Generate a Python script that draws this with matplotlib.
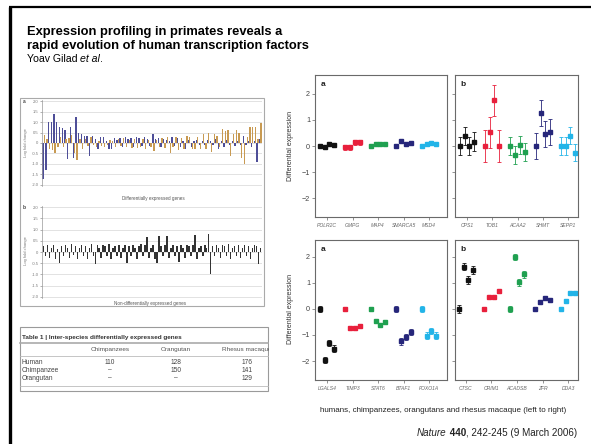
import matplotlib
matplotlib.use('Agg')
import matplotlib.pyplot as plt
from matplotlib.patches import Rectangle

W, H = 591, 444
plt.rcParams['font.family'] = ['Liberation Sans', 'DejaVu Sans']

# ---------------- data ----------------
# Left figure, panel a: differentially expressed genes (paired bars)
de_blue = [-1.7, -1.3, 1.0, 1.0, 1.4, 1.0, 0.75, 0.7, 0.6, -0.75,
           0.75, -0.7, 1.25, 0.5, 0.45, 0.35, 0.35, -0.6, 0.35, 0.2,
           -0.3, 0.3, 0.3, 0.1, -0.3, -0.3, 0.25, 0.15, 0.25, -0.2,
           0.3, 0.2, 0.25, -0.2, 0.3, 0.25, -0.15, 0.3, 0.2, -0.15,
           0.45, 0.2, 0.25, -0.2, 0.2, 0.15, 0.1, 0.3, -0.15, 0.25,
           -0.2, 0.1, -0.3, 0.15, -0.2, 0.1, 0.15, -0.1, 0.1, -0.1,
           0.15, 0.1, -0.1, 0.2, -0.3, 0.1, -0.2, 0.15, -0.1, 0.1,
           -0.15, 0.1, -0.1, 0.35, -0.1, 0.1, -0.2, 0.1, -0.9, 0.2]
de_tan = [0.4, 0.2, -0.3, -0.35, -0.5, -0.2, 0.3, -0.2, 0.2, 0.25,
          0.4, -0.5, -0.8, 0.2, -0.3, 0.2, -0.15, 0.3, -0.1, -0.2,
          0.1, -0.15, -0.2, -0.1, 0.15, 0.1, -0.2, 0.2, -0.15, 0.25,
          -0.2, 0.15, -0.25, 0.2, -0.25, -0.2, 0.2, -0.3, 0.15, -0.2,
          -0.4, 0.15, -0.2, 0.25, -0.25, 0.3, -0.5, -0.2, 0.3, -0.35,
          0.25, -0.3, 0.35, 0.3, -0.3, -0.3, 0.3, -0.3, 0.45, -0.3,
          0.5, -0.45, 0.45, 0.35, -0.2, 0.65, 0.55, 0.6, -0.6, 0.45,
          0.6, 0.5, -0.7, -1.0, 0.3, 0.75, 0.75, 0.75, 0.2, 0.95]
# Left figure, panel b: non-differentially expressed genes
nde = [0.25, -0.2, 0.3, -0.25, 0.2, 0.3, -0.3, 0.15, -0.5, 0.25,
       -0.2, 0.3, 0.2, -0.25, 0.35, -0.15, 0.25, -0.3, 0.2, 0.3,
       -0.2, 0.25, -0.3, 0.2, 0.35, -0.2, -0.55, 0.3, 0.2, -0.25,
       0.3, 0.25, -0.2, 0.35, -0.3, 0.2, 0.25, -0.2, 0.3, -0.25,
       0.2, 0.3, -0.5, 0.25, -0.2, 0.3, 0.2, -0.3, 0.25, 0.35,
       -0.2, 0.3, 0.65, -0.25, 0.2, 0.3, -0.3, -0.5, 0.7, 0.25,
       -0.2, 0.3, 0.7, -0.25, 0.2, 0.3, -0.2, 0.25, -0.45, 0.3,
       0.2, -0.25, 0.3, 0.25, -0.2, 0.3, 0.75, -0.3, 0.2, 0.25,
       -0.2, 0.3, 0.2, 0.8, -1.0, 0.25, -0.2, 0.3, 0.2, -0.25,
       0.3, 0.25, -0.2, 0.35, -0.3, 0.2, 0.25, -0.2, 0.3, -0.25,
       0.2, 0.3, -0.2, 0.25, -0.3, 0.2, 0.3, 0.25, -0.55, 0.2]
lfc_ticks = [2.0, 1.5, 1.0, 0.5, 0, -0.5, -1.0, -1.5, -2.0]
lfc_labels = ['2.0', '1.5', '1.0', '0.5', '0', '-0.5', '-1.0', '-1.5', '-2.0']

# Table 1
tbl_title = 'Table 1 | Inter-species differentially expressed genes'
tbl_cols = ['Chimpanzees', 'Orangutan', 'Rhesus macaque']
tbl_rows = ['Human', 'Chimpanzee', 'Orangutan']
tbl_vals = [['110', '128', '176'], ['\u2013', '150', '141'], ['\u2013', '\u2013', '129']]

# Right figure: differential expression (humans, chimps, orangutans, rhesus)
genes_ua = ['POLR2C', 'GMPG', 'MAP4', 'SMARCA5', 'MSD4']
vals_ua = [[0, -0.05, 0.08, 0.03], [-0.05, -0.05, 0.14, 0.14], [0, 0.07, 0.07, 0.07],
           [0, 0.2, 0.07, 0.13], [0, 0.07, 0.1, 0.08]]
err_ua = [0.04, 0.1, 0.04, 0.04, 0.04]
genes_ub = ['CPS1', 'TOB1', 'ACAA2', 'SHMT', 'SEPP1']
vals_ub = [[0, 0.37, 0, 0.17], [0, 0.52, 1.75, 0], [0, -0.35, 0.05, -0.22],
           [0, 1.25, 0.45, 0.55], [0, 0, 0.4, -0.25]]
err_ub = [0.35, 0.6, 0.35, 0.5, 0.33]
genes_la = ['LGALS4', 'TIMP3', 'STAT6', 'BTAF1', 'FOXO1A']
vals_la = [[0, -1.95, -1.3, -1.52], [0, -0.75, -0.75, -0.65], [0, -0.48, -0.6, -0.52],
           [0, -1.25, -1.08, -0.88], [0, -1.02, -0.85, -1.02]]
err_la = [0.12, 0.07, 0.06, 0.12, 0.12]
genes_lb = ['CTSC', 'CRIM1', 'ACADSB', 'ZFR', 'DDA3']
vals_lb = [[0, 1.63, 1.12, 1.5], [0, 0.45, 0.45, 0.68], [0, 2.0, 1.03, 1.33],
           [0, 0.28, 0.43, 0.33], [0, 0.3, 0.63, 0.63]]
err_lb = [0.15, 0.06, 0.13, 0.04, 0.05]
gene_colors = ['#111111', '#e8203c', '#1fa050', '#26267a', '#22b4e8']
species_offsets = [-0.28, -0.09, 0.09, 0.28]
de_ticks = [-2, -1, 0, 1, 2]

# ---------------- figure ----------------
fig = plt.figure(figsize=(W / 100, H / 100), dpi=100)
bg = fig.add_axes([0, 0, 1, 1])
bg.set_xlim(0, W)
bg.set_ylim(H, 0)
bg.axis('off')


def rect(x0, y0, x1, y1):
    return [x0 / W, 1 - y1 / H, (x1 - x0) / W, (y1 - y0) / H]


renderer = fig.canvas.get_renderer()


def seq_text(x, y, parts, align='left', **kw):
    texts = []
    for s, extra in parts:
        t = bg.text(0, y, s, va='center', **kw, **extra)
        texts.append(t)
    widths = [t.get_window_extent(renderer=renderer).width for t in texts]
    total = sum(widths)
    cx = x - total if align == 'right' else x
    for t, w in zip(texts, widths):
        t.set_x(cx)
        cx += w


# frame
bg.plot([10, 10], [7, H], color='black', lw=2.4, solid_capstyle='butt')
bg.plot([9, W], [7.5, 7.5], color='black', lw=1.6, solid_capstyle='butt')

# title block
bg.text(27, 32, 'Expression profiling in primates reveals a', fontsize=9.3,
        weight='bold', va='center')
bg.text(27, 46, 'rapid evolution of human transcription factors', fontsize=9.3,
        weight='bold', va='center')
seq_text(27, 59, [('Yoav Gilad ', {}), ('et al', {'style': 'italic'}), ('.', {})],
         fontsize=7.6)

# ---- left figure (bar charts) ----
bg.add_patch(Rectangle((20, 98), 244, 208, fill=False, ec='#aaaaaa', lw=0.8))

gray_txt = '#777777'


def style_lfc(ax):
    ax.set_ylim(-2.05, 2.05)
    ax.set_yticks(lfc_ticks)
    ax.set_yticklabels(lfc_labels)
    ax.tick_params(axis='y', labelsize=3, colors=gray_txt, length=1.5, width=0.4, pad=1)
    ax.tick_params(axis='x', bottom=False, labelbottom=False)
    for s in ['top', 'right', 'bottom']:
        ax.spines[s].set_visible(False)
    ax.spines['left'].set_color('#999999')
    ax.spines['left'].set_linewidth(0.5)
    for t in lfc_ticks:
        ax.axhline(t, color='#d6d6d6', lw=0.5, zorder=0)


ax1 = fig.add_axes(rect(42, 100, 262, 186))
n1 = len(de_blue)
xs1 = list(range(n1))
ax1.bar([x - 0.2 for x in xs1], de_blue, width=0.5, color='#4e4e98', lw=0)
ax1.bar([x + 0.2 for x in xs1], de_tan, width=0.5, color='#c89a52', lw=0)
ax1.set_xlim(-0.6, n1 - 0.4)
style_lfc(ax1)

ax2 = fig.add_axes(rect(42, 206, 262, 298))
n2 = len(nde)
ax2.bar(range(n2), nde, width=0.6, color='#333333', lw=0)
ax2.set_xlim(-0.6, n2 - 0.4)
style_lfc(ax2)

bg.text(22.5, 101, 'a', fontsize=3.5, weight='bold', va='center', color='#444444')
bg.text(22.5, 207, 'b', fontsize=3.5, weight='bold', va='center', color='#444444')
bg.text(26, 143, 'Log fold change', fontsize=3, rotation=90, va='center', ha='center',
        color=gray_txt)
bg.text(26, 251, 'Log fold change', fontsize=3, rotation=90, va='center', ha='center',
        color=gray_txt)
bg.text(153, 198, 'Differentially expressed genes', fontsize=3.3, ha='center',
        va='center', color='#555555')
bg.text(150, 303, 'Non-differentially expressed genes', fontsize=3.3, ha='center',
        va='center', color='#555555')

# ---- table ----
bg.add_patch(Rectangle((20, 327), 248, 64, fill=False, ec='#9a9a9a', lw=0.8))
bg.text(22, 337, tbl_title, fontsize=4.6, weight='bold', va='center', color='#333333')
bg.plot([20, 268], [343, 343], color='#aaaaaa', lw=1.2)
bg.plot([20, 268], [355.5, 355.5], color='#bbbbbb', lw=0.6)
bg.plot([20, 268], [385.5, 385.5], color='#bbbbbb', lw=0.6)
col_x = [110, 176, 247]
for cx, c in zip(col_x, tbl_cols):
    bg.text(cx, 349, c, fontsize=4.6, ha='center', va='center', color='#555555')
row_y = [362, 370, 378]
for ry, rname, rv in zip(row_y, tbl_rows, tbl_vals):
    bg.text(22, ry, rname, fontsize=4.8, va='center', color='#444444')
    for cx, v in zip(col_x, rv):
        bg.text(cx, ry, v, fontsize=4.8, ha='center', va='center', color='#444444')
# hide overflow of header beyond table right edge
bg.add_patch(Rectangle((268.5, 340), 12, 20, fc='white', ec='none', zorder=3))


# ---- right figure (differential expression panels) ----
def de_panel(box, genes, vals, errs, letter, xlim, ylim, show_ylabels):
    ax = fig.add_axes(rect(*box))
    for gi, (g, vs, e) in enumerate(zip(genes, vals, errs)):
        xs = [gi + o for o in species_offsets]
        ax.errorbar(xs, vs, yerr=[e] * len(vs), fmt='s', ms=2.4, color=gene_colors[gi],
                    ecolor=gene_colors[gi], elinewidth=0.6, capsize=1.6, capthick=0.6)
    ax.set_xlim(*xlim)
    ax.set_ylim(*ylim)
    ax.set_xticks(range(len(genes)))
    ax.set_xticklabels(genes, fontsize=3.6, style='italic', color='#666666')
    ax.set_yticks(de_ticks)
    ax.set_yticklabels(['\u22122', '\u22121', '0', '1', '2'] if show_ylabels else [])
    ax.tick_params(axis='both', length=2, width=0.5, colors='#666666', labelsize=5.2,
                   pad=1.5)
    ax.tick_params(axis='x', labelsize=3.6, labelcolor='#666666', pad=2.5)
    ax.tick_params(axis='y', labelcolor='#444444')
    for s in ax.spines.values():
        s.set_color('#6a6a6a')
        s.set_linewidth(0.8)
    ax.text(0.04, 0.955, letter, transform=ax.transAxes, fontsize=6, weight='bold',
            va='top', color='#222222')
    return ax


de_panel((315, 75, 447, 217), genes_ua, vals_ua, err_ua, 'a', (-0.47, 4.7),
         (-2.73, 2.73), True)
de_panel((455, 75, 578, 217), genes_ub, vals_ub, err_ub, 'b', (-0.47, 4.39),
         (-2.73, 2.73), False)
de_panel((315, 240, 447, 380), genes_la, vals_la, err_la, 'a', (-0.47, 4.7),
         (-2.73, 2.65), True)
de_panel((455, 240, 578, 380), genes_lb, vals_lb, err_lb, 'b', (-0.43, 4.39),
         (-2.73, 2.65), False)

bg.text(291, 146, 'Differential expression', fontsize=5, rotation=90, ha='center',
        va='center', color='#333333')
bg.text(291, 309, 'Differential expression', fontsize=5, rotation=90, ha='center',
        va='center', color='#333333')

bg.text(443, 410, 'humans, chimpanzees, orangutans and rhesus macaque (left to right)',
        fontsize=5.8, ha='center', va='center', color='#222222')
seq_text(577, 433, [('Nature', {'style': 'italic'}), (' 440', {'weight': 'bold'}),
                    (', 242-245 (9 March 2006)', {})], align='right', fontsize=7.1,
         color='#222222')

fig.savefig('out.png', dpi=100)
